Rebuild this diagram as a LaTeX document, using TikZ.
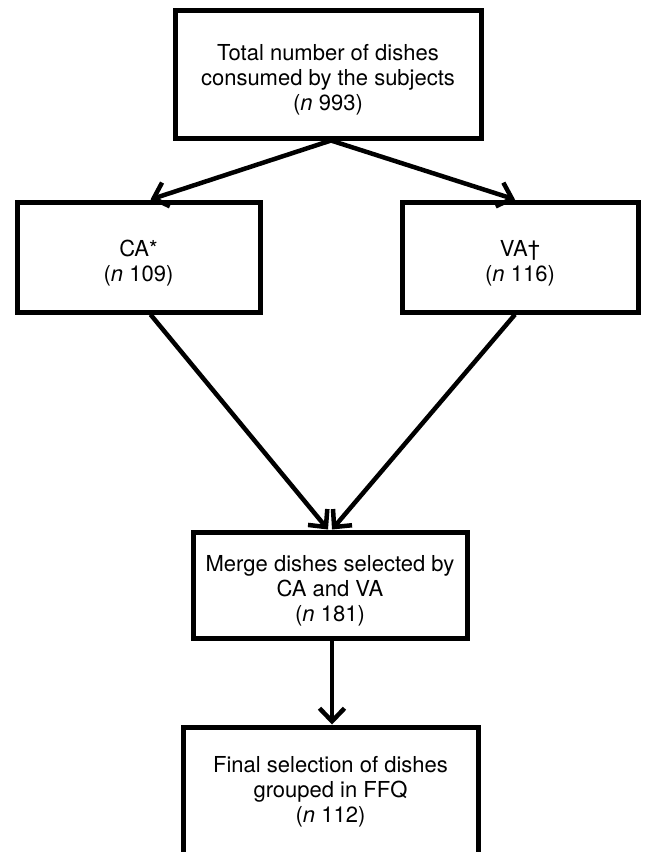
\documentclass[tikz,border=0pt]{standalone}
\usepackage{fontspec}
\setmainfont{TeX Gyre Heros}
\usetikzlibrary{arrows.meta}

\begin{document}
\begin{tikzpicture}[
  x=1pt, y=-1pt,
  kasten/.style={
    shape=rectangle,
    draw,
    line width=5pt,
    inner sep=0pt
  },
  schrift/.style={
    align=center,
    inner sep=0pt,
    yshift=-6pt,
    font=\fontsize{22}{25}\selectfont
  },
  pfeil/.style={
    line width=4.5pt,
    -{Straight Barb[length=13pt,width=25pt,line width=4.5pt]}
  }
]

\useasboundingbox (0,0) rectangle (645,852);

\draw (328, 74) node [kasten, minimum width=306pt, minimum height=128pt,
  label={[schrift]center:Total number of dishes\\consumed by the subjects\\(\textit{n} 993)}] (total) {};
\draw (138.5, 257) node [kasten, minimum width=243pt, minimum height=110pt,
  label={[schrift]center:CA*\\(\textit{n} 109)}] (ca) {};
\draw (520, 257) node [kasten, minimum width=236pt, minimum height=110pt,
  label={[schrift]center:VA†\\(\textit{n} 116)}] (va) {};
\draw (330, 585) node [kasten, minimum width=274pt, minimum height=106pt,
  label={[schrift]center:Merge dishes selected by\\CA and VA\\(\textit{n} 181)}] (merge) {};
\draw (330.5, 792.5) node [kasten, minimum width=295pt, minimum height=131pt,
  label={[schrift,yshift=7pt]center:Final selection of dishes\\grouped in FFQ\\(\textit{n} 112)}] (final) {};

\path
  ([xshift=3pt]total.south) edge [pfeil] ([xshift=12pt]ca.north)
  ([xshift=3pt]total.south) edge [pfeil] ([xshift=-5pt]va.north)
  ([xshift=12pt]ca.south) edge [pfeil] ([xshift=-2pt]merge.north)
  ([xshift=-5pt]va.south) edge [pfeil] ([xshift=2pt]merge.north)
  ([xshift=2pt]merge.south) edge [pfeil] ([xshift=1.5pt]final.north)
  ;
\end{tikzpicture}
\end{document}
